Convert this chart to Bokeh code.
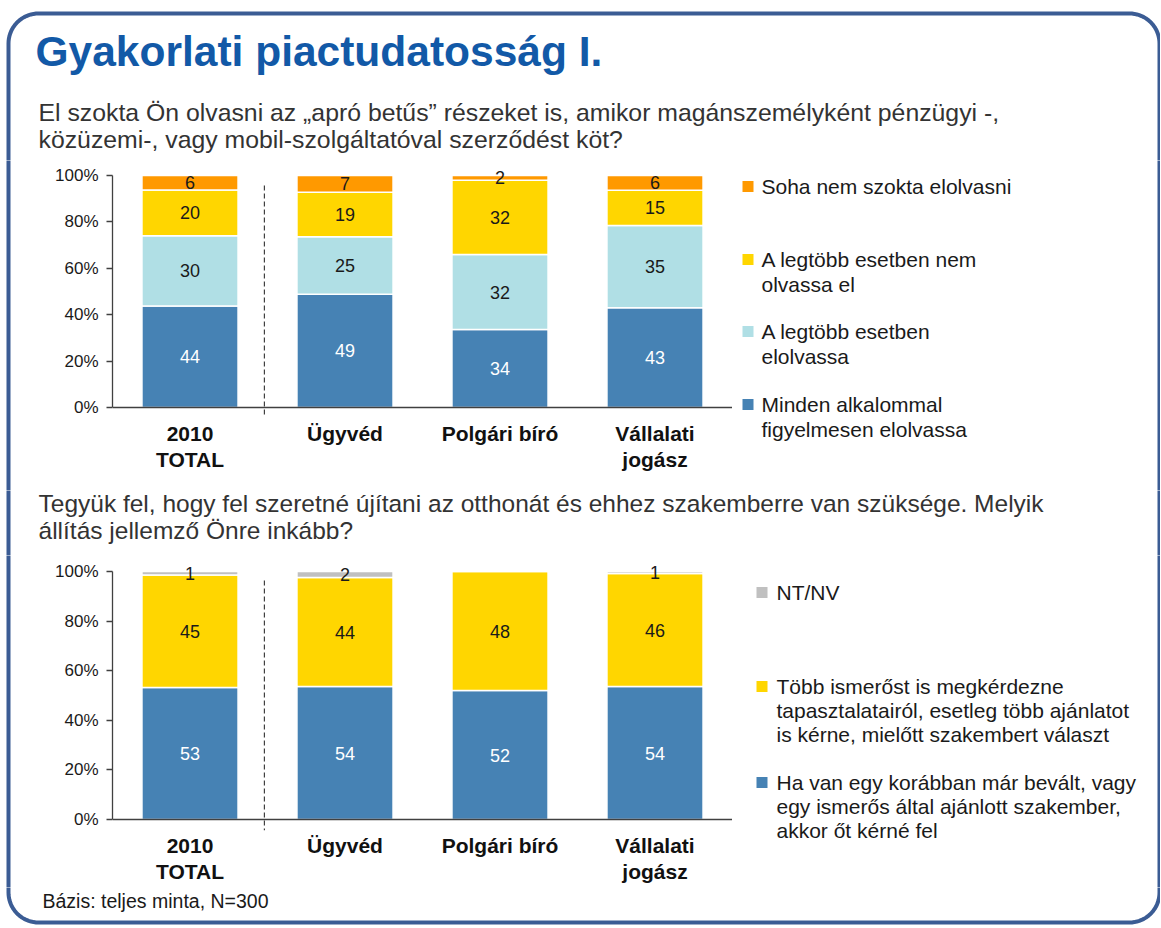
import numpy as np
from bokeh.plotting import figure
from bokeh.models import (ColumnDataSource, FactorRange, Range1d, Span, FixedTicker,
                          PrintfTickFormatter)
from bokeh.layouts import column, row
from bokeh.embed import file_html
from bokeh.resources import INLINE
from bokeh.core.properties import value

# ---------------- data ----------------
categories = ["2010\nTOTAL", "Ügyvéd", "Polgári bíró", "Vállalati\njogász"]

title_text = "Gyakorlati piactudatosság I."
q1_text = ["El szokta Ön olvasni az „apró betűs” részeket is, amikor magánszemélyként pénzügyi -,",
           "közüzemi-, vagy mobil-szolgáltatóval szerződést köt?"]
q2_text = ["Tegyük fel, hogy fel szeretné újítani az otthonát és ehhez szakemberre van szüksége. Melyik",
           "állítás jellemző Önre inkább?"]
footnote = "Bázis: teljes minta, N=300"

# question 1 (bottom -> top of stack)
q1_names = ["Minden alkalommal\nfigyelmesen elolvassa",
            "A legtöbb esetben\nelolvassa",
            "A legtöbb esetben nem\nolvassa el",
            "Soha nem szokta elolvasni"]
q1_minden = [43.7, 48.8, 33.6, 43.0]
q1_elolvassa = [30.3, 24.8, 32.3, 35.4]
q1_nem = [19.8, 19.2, 32.0, 15.2]
q1_soha = [6.2, 7.2, 2.1, 6.4]

# question 2 (bottom -> top of stack)
q2_names = ["Ha van egy korábban már bevált, vagy\negy ismerős által ajánlott szakember,\nakkor őt kérné fel",
            "Több ismerőst is megkérdezne\ntapasztalatairól, esetleg több ajánlatot\nis kérne, mielőtt szakembert választ",
            "NT/NV"]
q2_bevalt = [53.2, 53.6, 52.0, 53.6]
q2_tobb = [45.4, 44.0, 48.0, 45.6]
q2_ntnv = [1.4, 2.4, 0.0, 0.8]

# ---------------- style ----------------
FONT = "Liberation Sans"
C_BLUE, C_LIGHT, C_YELLOW, C_ORANGE, C_GRAY = "#4682B4", "#B0DFE5", "#FFD600", "#FF9900", "#C0C0C0"
TXT = "#1a1a1a"
QTXT = "#333333"
AXIS = "#404040"
BORDER = "#3B5C94"

q1_colors = [C_BLUE, C_LIGHT, C_YELLOW, C_ORANGE]
q1_label_colors = ["white", TXT, TXT, TXT]
q2_colors = [C_BLUE, C_YELLOW, C_GRAY]
q2_label_colors = ["white", TXT, TXT]

# page geometry (pixels)
W = 1160
STRIP = 30
FRAME_L, FRAME_R = 112, 732
BL, BR, BT, BB, RAD = 8, 1159, 13, 922, 30
EXT = 6  # border lines run a little past each panel edge so the pieces join


def make_chart(row_top, row_bot, frame_top, zero_y, ppu, frame_bot, values, colors,
               label_colors, dash_top, label_standoff):
    y_range = Range1d(-(frame_bot - zero_y) / ppu, (zero_y - frame_top) / ppu)
    p = figure(width=FRAME_R - STRIP, height=row_bot - row_top,
               x_range=FactorRange(*categories), y_range=y_range,
               output_backend="svg", toolbar_location=None, frame_align=False,
               min_border_left=FRAME_L - STRIP, min_border_right=0,
               min_border_top=frame_top - row_top, min_border_bottom=row_bot - frame_bot)
    p.outline_line_color = None
    p.xgrid.grid_line_color = None
    p.ygrid.grid_line_color = None
    p.background_fill_color = "white"
    p.border_fill_color = "white"

    keys = [f"s{i}" for i in range(len(values))]
    data = {"cat": categories}
    for k, v in zip(keys, values):
        data[k] = v
    src = ColumnDataSource(data)
    p.vbar_stack(keys, x="cat", width=0.62, color=colors, line_color="white", line_width=1.5,
                 source=src)

    # value labels in the middle of each segment
    lx, ly, lt, lc = [], [], [], []
    base = np.zeros(len(categories))
    for v, c in zip(values, label_colors):
        arr = np.array(v, dtype=float)
        for i, cat in enumerate(categories):
            if arr[i] > 0:
                lx.append(cat)
                ly.append(base[i] + arr[i] / 2)
                lt.append(str(int(round(arr[i]))))
                lc.append(c)
        base = base + arr
    p.text(x="cat", y="y", text="t", text_color="c",
           source=ColumnDataSource(dict(cat=lx, y=ly, t=lt, c=lc)),
           text_align="center", text_baseline="middle",
           text_font=value(FONT), text_font_size="18px")

    # baseline (0 %) line
    p.add_layout(Span(location=0, dimension="width", line_color=AXIS, line_width=1.3))

    # dashed separator between TOTAL and the groups
    p.segment(x0="x", y0="y0", x1="x", y1="y1",
              source=ColumnDataSource(dict(x=[(categories[1], -0.52)], y0=[dash_top],
                                           y1=[y_range.start])),
              line_color=AXIS, line_width=1.2, line_dash="5 3")

    ya = p.yaxis[0]
    ya.ticker = FixedTicker(ticks=[0, 20, 40, 60, 80, 100])
    ya.bounds = (0, 100)
    ya.formatter = PrintfTickFormatter(format="%d%%")
    ya.axis_line_color = AXIS
    ya.axis_line_width = 1.3
    ya.major_tick_line_color = AXIS
    ya.major_tick_line_width = 1.3
    ya.major_tick_in = 0
    ya.major_tick_out = 6
    ya.minor_tick_line_color = None
    ya.major_label_standoff = 8
    ya.major_label_text_font = FONT
    ya.major_label_text_font_size = "17px"
    ya.major_label_text_color = TXT

    xa = p.xaxis[0]
    xa.axis_line_color = None
    xa.major_tick_line_color = None
    xa.major_tick_in = 0
    xa.major_tick_out = 0
    xa.minor_tick_line_color = None
    xa.major_label_standoff = label_standoff
    xa.major_label_text_font = FONT
    xa.major_label_text_font_size = "21px"
    xa.major_label_text_font_style = "bold"
    xa.major_label_text_color = "#111111"
    xa.major_label_text_line_height = 1.16
    return p


def deco(x0, x1, y0, y1):
    """A plain drawing area in page pixel coordinates (y grows downwards)."""
    p = figure(width=x1 - x0, height=y1 - y0, x_range=Range1d(x0, x1), y_range=Range1d(y1, y0),
               output_backend="svg", toolbar_location=None, min_border=0, frame_align=False,
               x_axis_location=None, y_axis_location=None)
    p.xgrid.visible = False
    p.ygrid.visible = False
    p.outline_line_color = None
    p.background_fill_color = "white"
    p.border_fill_color = "white"
    return p


def put_text(p, lines, x, center, size, color=TXT, style="normal", step=24.4):
    """Lines of text; `center` is the vertical middle of the first line."""
    p.text(x=[x] * len(lines), y=[center + i * step for i in range(len(lines))], text=lines,
           text_font=value(FONT), text_font_size=size, text_font_style=style,
           text_color=color, text_baseline="middle", text_align="left")


def border(p, xs, ys):
    p.line(xs, ys, line_color=BORDER, line_width=4, line_join="round")


def arc(cx, cy, a0, a1, n=20):
    t = np.linspace(np.radians(a0), np.radians(a1), n)
    return list(cx + RAD * np.cos(t)), list(cy - RAD * np.sin(t))


def legend(p, names, colors, centers, sq_x, txt_x, step):
    for name, col, c in zip(names, colors, centers):
        p.quad(left=[sq_x], right=[sq_x + 11], top=[c - 5.5], bottom=[c + 5.5],
               fill_color=col, line_color=None)
        put_text(p, name.split("\n"), txt_x, c, "21px", step=step)


# ---------------- header ----------------
Y_H, Y_R1, Y_M, Y_R2, Y_F = 0, 160, 490, 555, 887
H_TOTAL = 927

head = deco(0, W, Y_H, Y_R1)
ax1, ay1 = arc(BL + RAD, BT + RAD, 180, 90)
ax2, ay2 = arc(BR - RAD, BT + RAD, 90, 0)
border(head, [BL] + ax1 + ax2 + [BR], [Y_R1 + EXT] + ay1 + ay2 + [Y_R1 + EXT])
put_text(head, [title_text], 35, 51, "42.5px", color="#1259A7", style="bold")
put_text(head, q1_text, 38, 112, "24.8px", color=QTXT, step=27)

# ---------------- row 1 ----------------
strip1 = deco(0, STRIP, Y_R1, Y_M)
border(strip1, [BL, BL], [Y_R1 - EXT, Y_M + EXT])
p1 = make_chart(Y_R1, Y_M, 168, 407, 2.32, 416,
                [q1_minden, q1_elolvassa, q1_nem, q1_soha], q1_colors, q1_label_colors,
                dash_top=95.7, label_standoff=5)
leg1 = deco(FRAME_R, W, Y_R1, Y_M)
border(leg1, [BR, BR], [Y_R1 - EXT, Y_M + EXT])
legend(leg1, q1_names[::-1], q1_colors[::-1], [186, 259, 331, 404], 742, 761, 24.5)

# ---------------- middle ----------------
mid = deco(0, W, Y_M, Y_R2)
border(mid, [BL, BL], [Y_M - EXT, Y_R2 + EXT])
border(mid, [BR, BR], [Y_M - EXT, Y_R2 + EXT])
put_text(mid, q2_text, 38, 503, "24.5px", color=QTXT, step=27)

# ---------------- row 2 ----------------
strip2 = deco(0, STRIP, Y_R2, Y_F)
border(strip2, [BL, BL], [Y_R2 - EXT, Y_F + EXT])
p2 = make_chart(Y_R2, Y_F, 563, 819, 2.48, 830,
                [q2_bevalt, q2_tobb, q2_ntnv], q2_colors, q2_label_colors,
                dash_top=96.4, label_standoff=3)
leg2 = deco(FRAME_R, W, Y_R2, Y_F)
border(leg2, [BR, BR], [Y_R2 - EXT, Y_F + EXT])
legend(leg2, q2_names[::-1], q2_colors[::-1], [592, 686, 782], 756, 776, 24.2)

# ---------------- footer ----------------
foot = deco(0, W, Y_F, H_TOTAL)
bx1, by1 = arc(BL + RAD, BB - RAD, 180, 270)
bx2, by2 = arc(BR - RAD, BB - RAD, 270, 360)
border(foot, [BL] + bx1 + bx2 + [BR], [Y_F - EXT] + by1 + by2 + [Y_F - EXT])
put_text(foot, [footnote], 42, 900, "19.5px")

layout = column(head,
                row(strip1, p1, leg1, spacing=0),
                mid,
                row(strip2, p2, leg2, spacing=0),
                foot, spacing=0)
open("out.html", "w").write(file_html(layout, INLINE))
